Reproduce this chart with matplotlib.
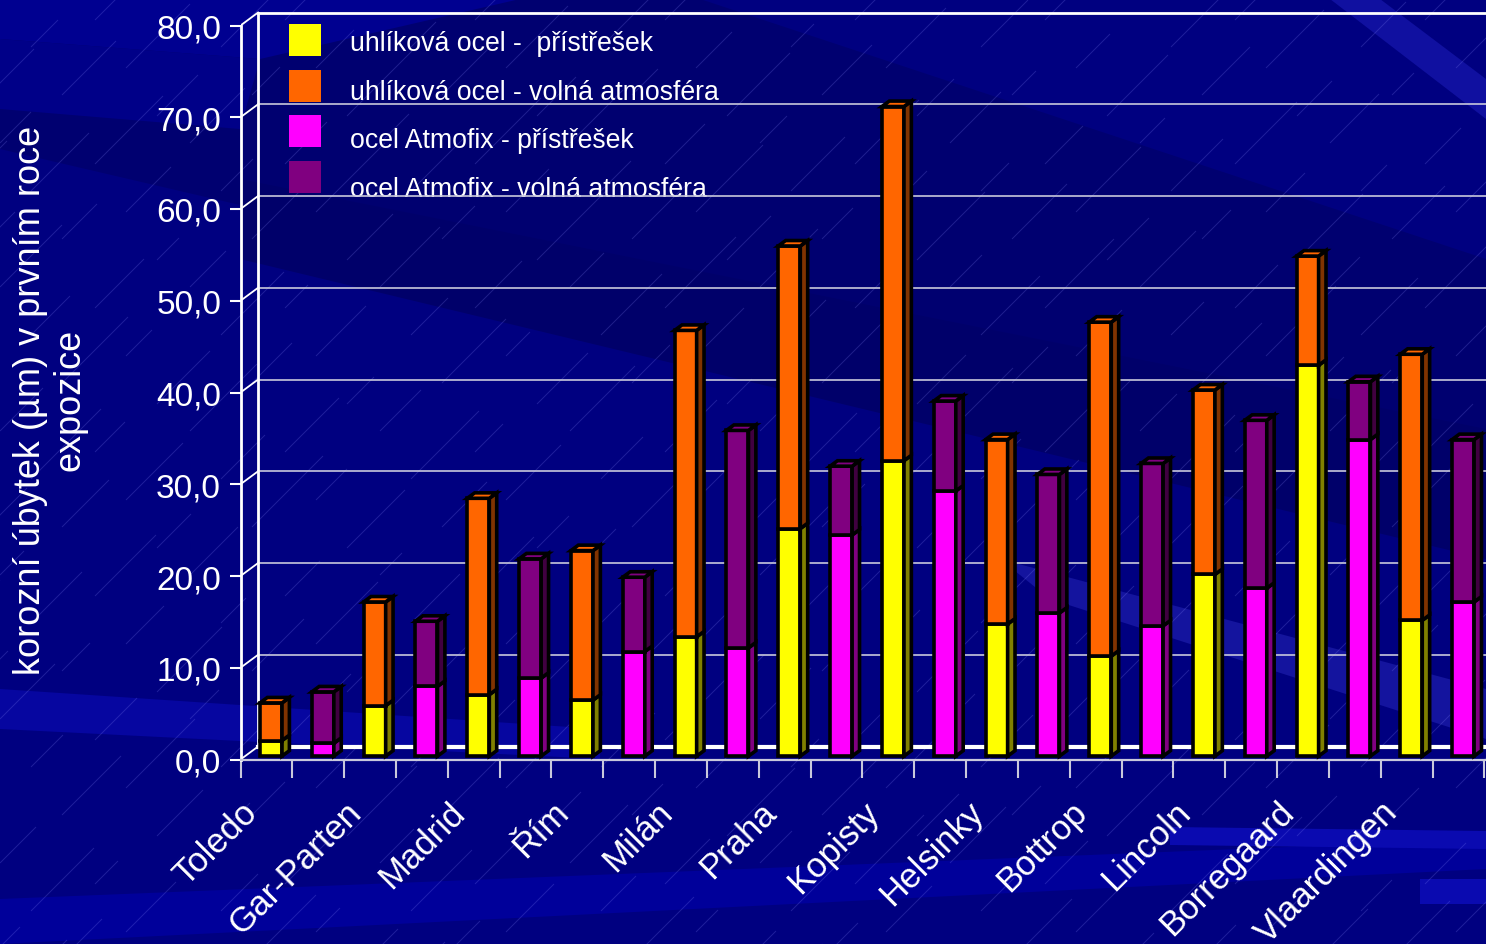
import numpy as np
import matplotlib.pyplot as plt
from matplotlib.patches import Polygon, Rectangle
from matplotlib.collections import LineCollection

W, H = 1486, 945
DPI = 100

cities = ['Toledo', 'Gar-Parten', 'Madrid', 'Řím', 'Milán', 'Praha',
          'Kopisty', 'Helsinky', 'Bottrop', 'Lincoln', 'Borregaard', 'Vlaardingen']

# corrosion loss after the first year (µm), stacked segments per city
carbon_shelter = [1.7, 5.5, 6.7, 6.1, 13.0, 24.8, 32.2, 14.4, 10.9, 19.8, 42.6, 14.8]
carbon_open = [4.1, 11.3, 21.4, 16.3, 33.4, 30.8, 38.6, 20.1, 36.4, 20.1, 11.9, 29.0]
atmofix_shelter = [1.4, 7.6, 8.5, 11.4, 11.8, 24.1, 28.9, 15.6, 14.2, 18.3, 34.5, 16.8]
atmofix_open = [5.6, 7.1, 13.0, 8.1, 23.7, 7.5, 9.8, 15.1, 17.7, 18.3, 6.3, 17.7]

series_names = ['uhlíková ocel -  přístřešek', 'uhlíková ocel - volná atmosféra',
                'ocel Atmofix - přístřešek', 'ocel Atmofix - volná atmosféra']
face_colors = ['#ffff00', '#ff6600', '#ff00ff', '#800080']
side_colors = ['#808000', '#803300', '#800080', '#400040']

y_ticks = list(range(0, 81, 10))
y_label = 'korozní úbytek (µm) v prvním roce\nexpozice'

plt.rcParams['font.family'] = ['Liberation Sans', 'DejaVu Sans']

# pixel geometry of the pseudo-3D frame
CAT_PX = 51.83          # width of one category
ORIGIN_X, ORIGIN_Y = 240.5, 760.5
VAL_PX = (760.5 - 26.5) / 80.0
WALL_DX_PX, WALL_DY_PX = 17.6, 13.0

DX = WALL_DX_PX / CAT_PX   # wall depth in data units
DY = WALL_DY_PX / VAL_PX
BAR_Z0, BAR_DZ, BAR_W = 0.26, 0.42, 0.425
LW = 2.6

fig = plt.figure(figsize=(W / DPI, H / DPI), dpi=DPI)
fig.patch.set_facecolor('#000080')

# background layer in pixel coordinates
bg = fig.add_axes([0, 0, 1, 1], zorder=0)
bg.set_xlim(0, W)
bg.set_ylim(H, 0)
bg.axis('off')

bands = [
    ([(0, 0), (0, 150), (300, 220), (1486, 470), (1486, 260), (700, 0)], '#000070'),
    ([(0, 0), (520, 0), (260, 60), (0, 40)], '#000090'),
    ([(0, 40), (260, 60), (240, 130), (0, 110)], '#000088'),
    ([(240, 180), (1486, 430), (1486, 560), (240, 260)], '#00006a'),
    ([(1000, 560), (1486, 690), (1486, 740), (1050, 600)], '#14149e'),
    ([(1330, 0), (1380, 0), (1486, 80), (1486, 120)], '#1010a0'),
    ([(0, 690), (600, 730), (600, 760), (0, 730)], '#0606a0'),
    ([(0, 900), (1486, 840), (1486, 870), (0, 945)], '#00009a'),
    ([(1170, 828), (1486, 832), (1486, 850), (1170, 846)], '#0a0ab0'),
    ([(1420, 880), (1486, 880), (1486, 905), (1420, 905)], '#0a0ab0'),
]
for pts, col in bands:
    bg.add_patch(Polygon(pts, closed=True, fc=col, ec='none'))

# faint diagonal streak texture
segs = []
k = 0
for row in range(-2, H // 48 + 4):
    for col in range(-2, W // 95 + 4):
        x = col * 95 + (row % 3) * 31
        y = row * 48 + (col % 2) * 21
        length = 22 + (k * 37) % 50
        segs.append([(x, y), (x + length, y - length)])
        k += 1
bg.add_collection(LineCollection(segs, colors='#9090ff', linewidths=0.7, alpha=0.22))

# main chart axes: x in categories, y in µm
ax = fig.add_axes([ORIGIN_X / W, (H - ORIGIN_Y) / H,
                   (W - ORIGIN_X) / W, ORIGIN_Y / H], zorder=1)
ax.patch.set_alpha(0)
ax.set_xlim(0, (W - ORIGIN_X) / CAT_PX)
ax.set_ylim(0, ORIGIN_Y / VAL_PX)
x_end = ax.get_xlim()[1] + 1

# walls: back gridlines, side-wall diagonals, frame edges
for v in y_ticks:
    if 0 < v < 80:
        ax.plot([DX, x_end], [v + DY, v + DY], color='#c8c8dc', lw=1.2, zorder=1)
    ax.plot([0, DX], [v, v + DY], color='white', lw=1.3, zorder=1)
ax.plot([DX, x_end], [80 + DY, 80 + DY], color='white', lw=2.0, zorder=1)
ax.plot([DX, DX], [DY, 80 + DY], color='white', lw=2.0, zorder=1)
ax.plot([DX, x_end], [DY, DY], color='white', lw=3.0, zorder=1)


def draw_segment(x_left, y0, y1, face, side, top):
    xl = x_left + BAR_Z0 * DX
    xr = xl + BAR_W
    yb = y0 + BAR_Z0 * DY
    yt = y1 + BAR_Z0 * DY
    ddx, ddy = BAR_DZ * DX, BAR_DZ * DY
    kw = dict(ec='black', lw=LW, joinstyle='miter', zorder=3)
    ax.add_patch(Polygon([(xl, yb), (xr, yb), (xr, yt), (xl, yt)], fc=face, **kw))
    ax.add_patch(Polygon([(xr, yb), (xr + ddx, yb + ddy), (xr + ddx, yt + ddy), (xr, yt)],
                         fc=side, **kw))
    if top:
        ax.add_patch(Polygon([(xl, yt), (xr, yt), (xr + ddx, yt + ddy), (xl + ddx, yt + ddy)],
                             fc=face, **kw))


for i in range(len(cities)):
    pairs = [((carbon_shelter[i], 0), (carbon_open[i], 1)),
             ((atmofix_shelter[i], 2), (atmofix_open[i], 3))]
    for j, stack in enumerate(pairs):
        cat = 2 * i + j
        x_left = cat + (1 - BAR_W) / 2
        base = 0.0
        for n, (val, s) in enumerate(stack):
            draw_segment(x_left, base, base + val, face_colors[s], side_colors[s],
                         top=(n == len(stack) - 1))
            base += val

# axes lines and ticks
for name in ['top', 'right']:
    ax.spines[name].set_visible(False)
ax.spines['left'].set_color('white')
ax.spines['left'].set_linewidth(2.0)
ax.spines['left'].set_bounds(0, 80)
ax.spines['bottom'].set_color('#c8c8dc')
ax.spines['bottom'].set_linewidth(1.6)

ax.set_yticks(y_ticks)
ax.set_yticklabels([f'{v:.1f}'.replace('.', ',') for v in y_ticks])
ax.tick_params(axis='y', colors='white', length=8, width=1.5, pad=6, labelsize=24)

ax.set_xticks(np.arange(0, 2 * len(cities) + 1))
ax.set_xticklabels([])
ax.tick_params(axis='x', colors='#c8c8dc', length=13, width=1.5)

for i, city in enumerate(cities):
    ax.text(2 * i + 0.5 - 14 / CAT_PX, -47 / VAL_PX, city, rotation=45,
            rotation_mode='anchor', ha='right', va='center',
            color='white', fontsize=25, clip_on=False)

# y axis title
bg.text(50, 400, y_label, rotation=90, ha='center', va='center',
        multialignment='center', color='white', fontsize=26, linespacing=1.15)

# legend
for k, (name, col) in enumerate(zip(series_names, face_colors)):
    sq_y = 25 + k * 45.7
    bg.add_patch(Rectangle((289, sq_y), 32, 32, fc=col, ec='none', zorder=2))
    bg.text(350, 44 + k * 48.7, name, color='white', fontsize=19.2,
            ha='left', va='center', zorder=2)

fig.savefig('out.png', dpi=DPI, facecolor=fig.get_facecolor())
